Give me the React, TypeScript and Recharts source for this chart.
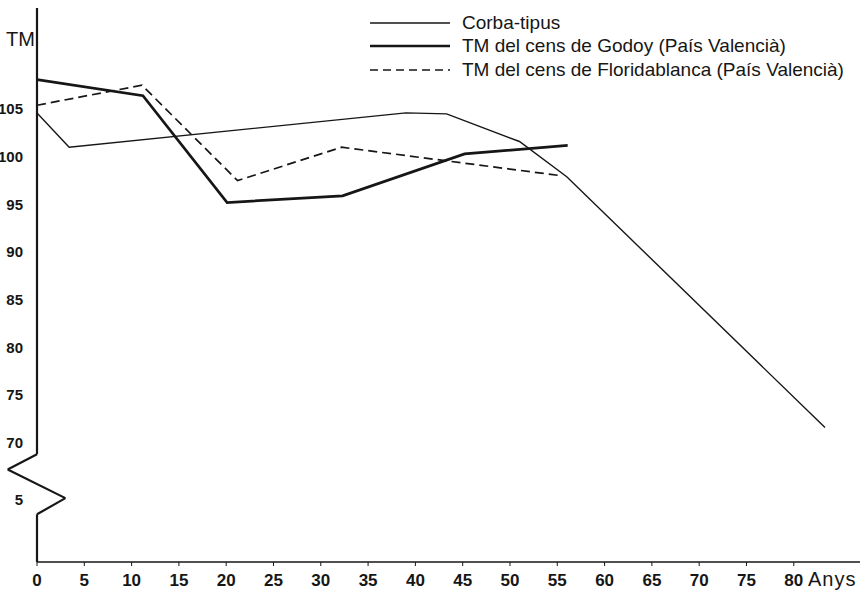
import { LineChart, Line, XAxis, YAxis, ReferenceLine } from "recharts";

// ages (anys) and TM values
const corbaAges = [0, 3.4, 39, 43.3, 51, 56, 83.3];
const corbaTM = [104.6, 101, 104.6, 104.5, 101.6, 97.9, 71.6];

const godoyAges = [0, 11.2, 20.1, 32.3, 45.2, 56.1];
const godoyTM = [108.1, 106.4, 95.2, 95.9, 100.3, 101.2];

const floridaAges = [0, 11.1, 21.2, 32.2, 55.5];
const floridaTM = [105.4, 107.5, 97.5, 101, 98];

const xTicks = [0, 5, 10, 15, 20, 25, 30, 35, 40, 45, 50, 55, 60, 65, 70, 75, 80];
// 64 stands for the "5" shown under the axis break
const yTicks = [64, 70, 75, 80, 85, 90, 95, 100, 105];

// y axis with the break zigzag, in data units
const axisBreak = [
  [0, 115.6],
  [0, 68.8],
  [-3.1, 67.2],
  [3, 64.2],
  [0, 62.5],
  [0, 57.5],
];

const legendItems = [
  { label: "Corba-tipus", width: 1.3, dash: undefined },
  { label: "TM del cens de Godoy (País Valencià)", width: 2.6, dash: undefined },
  { label: "TM del cens de Floridablanca (País Valencià)", width: 1.6, dash: "8 5" },
];

const toPoints = (ages: number[], tm: number[]) => ages.map((age, i) => ({ age, tm: tm[i] }));

const font = "'Liberation Sans', Arial, Helvetica, sans-serif";
const ink = "#161616";

export default function App() {
  const corba = toPoints(corbaAges, corbaTM);
  const godoy = toPoints(godoyAges, godoyTM);
  const florida = toPoints(floridaAges, floridaTM);

  return (
    <div style={{ position: "relative", width: 862, height: 591, fontFamily: font, background: "#fff" }}>
      <style>{`body{margin:0}`}</style>
      <LineChart width={862} height={591} margin={{ top: 8, right: 2, bottom: 1, left: 0 }}>
        <XAxis
          type="number"
          dataKey="age"
          domain={[0, 87]}
          ticks={xTicks}
          allowDataOverflow
          height={28}
          tickSize={4}
          tickMargin={8}
          tick={{ fontSize: 17, fontWeight: "bold", fill: ink, fontFamily: font }}
          axisLine={{ stroke: ink, strokeWidth: 1.5 }}
          tickLine={{ stroke: ink }}
        />
        <YAxis
          type="number"
          domain={[57.5, 115.6]}
          ticks={yTicks}
          allowDataOverflow
          width={37}
          axisLine={false}
          tickLine={false}
          tickMargin={8}
          tickFormatter={(v: number) => (v === 64 ? "5" : String(v))}
          tick={{ fontSize: 15, fontWeight: "bold", fill: ink, fontFamily: font }}
        />
        {axisBreak.slice(1).map((p, i) => (
          <ReferenceLine
            key={i}
            segment={[
              { x: axisBreak[i][0], y: axisBreak[i][1] },
              { x: p[0], y: p[1] },
            ]}
            stroke={ink}
            strokeWidth={2.2}
            ifOverflow="visible"
          />
        ))}
        <Line data={corba} dataKey="tm" type="linear" stroke={ink} strokeWidth={1.4} dot={false} isAnimationActive={false} />
        <Line data={godoy} dataKey="tm" type="linear" stroke={ink} strokeWidth={2.7} dot={false} isAnimationActive={false} />
        <Line data={florida} dataKey="tm" type="linear" stroke={ink} strokeWidth={1.7} strokeDasharray="9 5" dot={false} isAnimationActive={false} />
      </LineChart>

      <div style={{ position: "absolute", left: 6, top: 28, fontSize: 20, color: ink }}>TM</div>
      <div style={{ position: "absolute", left: 808, top: 568, fontSize: 20, letterSpacing: 1, color: ink }}>Anys</div>

      <div style={{ position: "absolute", left: 370, top: 11 }}>
        {legendItems.map((it) => (
          <div key={it.label} style={{ display: "flex", alignItems: "center", height: 23.5 }}>
            <svg width={80} height={6} style={{ marginRight: 12 }}>
              <line x1={0} y1={3} x2={80} y2={3} stroke={ink} strokeWidth={it.width} strokeDasharray={it.dash} />
            </svg>
            <span style={{ fontSize: 19, color: ink, whiteSpace: "nowrap" }}>{it.label}</span>
          </div>
        ))}
      </div>
    </div>
  );
}
